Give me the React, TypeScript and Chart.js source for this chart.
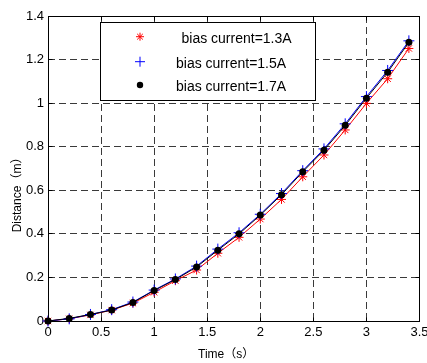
import React, { useEffect, useRef } from 'react';
import { Chart, registerables } from 'chart.js';

Chart.register(...registerables);

const times = [0, 0.2, 0.4, 0.6, 0.8, 1.0, 1.2, 1.4, 1.6, 1.8, 2.0, 2.2, 2.4, 2.6, 2.8, 3.0, 3.2, 3.4];
const dist13 = [0, 0.01, 0.028, 0.05, 0.082, 0.132, 0.185, 0.234, 0.311, 0.384, 0.468, 0.558, 0.662, 0.762, 0.877, 0.999, 1.112, 1.251];
const dist15 = [0, 0.01, 0.03, 0.052, 0.087, 0.142, 0.193, 0.252, 0.33, 0.405, 0.49, 0.585, 0.69, 0.79, 0.905, 1.03, 1.15, 1.286];
const dist17 = [0, 0.012, 0.03, 0.05, 0.085, 0.14, 0.19, 0.248, 0.325, 0.4, 0.486, 0.58, 0.685, 0.784, 0.898, 1.023, 1.142, 1.279];
const seriesLabels = ['bias current=1.3A', 'bias current=1.5A', 'bias current=1.7A'];
const xTickLabels = ['0', '0.5', '1', '1.5', '2', '2.5', '3', '3.5'];
const yTickLabels = ['0', '0.2', '0.4', '0.6', '0.8', '1', '1.2', '1.4'];
const xTitle = 'Time（s）';
const yTitle = 'Distance（m）';

const FONT = "'Liberation Sans', Arial, 'Noto Sans CJK SC', sans-serif";

const al = (p: number) => Math.round(p - 0.5) + 0.5;

function drawStar(ctx: CanvasRenderingContext2D, x: number, y: number, r: number) {
  const d = r * Math.SQRT1_2;
  ctx.beginPath();
  ctx.moveTo(x - r, y); ctx.lineTo(x + r, y);
  ctx.moveTo(x, y - r); ctx.lineTo(x, y + r);
  ctx.moveTo(x - d, y - d); ctx.lineTo(x + d, y + d);
  ctx.moveTo(x - d, y + d); ctx.lineTo(x + d, y - d);
  ctx.stroke();
}
function drawPlus(ctx: CanvasRenderingContext2D, x: number, y: number, r: number) {
  ctx.beginPath();
  ctx.moveTo(x - r, y); ctx.lineTo(x + r, y);
  ctx.moveTo(x, y - r); ctx.lineTo(x, y + r);
  ctx.stroke();
}
function drawDot(ctx: CanvasRenderingContext2D, x: number, y: number, r: number) {
  ctx.beginPath();
  ctx.arc(x, y, r, 0, Math.PI * 2);
  ctx.fill();
}

const framePlugin = {
  id: 'matlabFrame',
  afterDraw(chart: any) {
    const { ctx, chartArea: a, scales } = chart;
    const L = al(a.left), R = al(a.right), T = al(a.top), B = al(a.bottom);
    ctx.save();
    ctx.strokeStyle = '#000';
    ctx.lineWidth = 1;
    ctx.setLineDash([]);
    // inward ticks
    const tl = 4;
    ctx.beginPath();
    scales.x.ticks.forEach((t: any) => {
      const px = al(scales.x.getPixelForValue(t.value));
      ctx.moveTo(px, B); ctx.lineTo(px, B - tl);
      ctx.moveTo(px, T); ctx.lineTo(px, T + tl);
    });
    scales.y.ticks.forEach((t: any) => {
      const py = al(scales.y.getPixelForValue(t.value));
      ctx.moveTo(L, py); ctx.lineTo(L + tl, py);
      ctx.moveTo(R, py); ctx.lineTo(R - tl, py);
    });
    ctx.stroke();
    // box
    ctx.strokeRect(L, T, R - L, B - T);

    // legend
    const lx = 100.5, ly = 22.5, lw = 215, lh = 78;
    ctx.fillStyle = '#fff';
    ctx.fillRect(lx, ly, lw, lh);
    ctx.strokeStyle = '#000';
    ctx.strokeRect(lx, ly, lw, lh);
    const mx = 140;
    const rows = [36.7, 61.7, 85];
    ctx.strokeStyle = '#ff0000';
    drawStar(ctx, mx, rows[0], 4);
    ctx.strokeStyle = '#0000ff';
    drawPlus(ctx, mx, rows[1], 5);
    ctx.fillStyle = '#000';
    drawDot(ctx, mx, rows[2], 3.2);
    ctx.fillStyle = '#000';
    ctx.font = `14px ${FONT}`;
    ctx.textAlign = 'left';
    ctx.textBaseline = 'alphabetic';
    const textX = [181.5, 176, 176];
    seriesLabels.forEach((s, i) => ctx.fillText(s, textX[i], rows[i] + 6));

    // axis titles
    ctx.font = `12px ${FONT}`;
    ctx.fillText(xTitle, 198, 357.5);
    ctx.save();
    ctx.translate(20.7, 232.3);
    ctx.rotate(-Math.PI / 2);
    ctx.fillText(yTitle, 0, 0);
    ctx.restore();
    ctx.restore();
  },
};

export default function App() {
  const ref = useRef<HTMLCanvasElement>(null);
  useEffect(() => {
    document.body.style.margin = '0';
    const mk = (vals: number[]) => times.map((t, i) => ({ x: t, y: vals[i] }));
    const chart = new Chart(ref.current as HTMLCanvasElement, {
      type: 'line',
      data: {
        datasets: [
          {
            label: seriesLabels[0], data: mk(dist13), borderColor: '#ff0000', backgroundColor: '#ff0000',
            borderWidth: 1, pointStyle: 'star', pointRadius: 4.5, pointBorderWidth: 1, pointBorderColor: '#ff0000',
            tension: 0, clip: false, order: 3,
          },
          {
            label: seriesLabels[1], data: mk(dist15), borderColor: '#0000ff', backgroundColor: '#0000ff',
            borderWidth: 1, pointStyle: 'cross', pointRadius: 5.5, pointBorderWidth: 1, pointBorderColor: '#0000ff',
            tension: 0, clip: false, order: 2,
          },
          {
            label: seriesLabels[2], data: mk(dist17), borderColor: '#000000', backgroundColor: '#000000',
            borderWidth: 1, pointStyle: 'circle', pointRadius: 3.5, pointBorderWidth: 0, pointBackgroundColor: '#000',
            tension: 0, clip: false, order: 1,
          },
        ] as any,
      },
      options: {
        responsive: false,
        animation: false,
        events: [],
        layout: { padding: { left: 0, top: 16, right: 7.5, bottom: 0 } },
        plugins: { legend: { display: false }, tooltip: { enabled: false } },
        scales: {
          x: {
            type: 'linear', min: 0, max: 3.5,
            ticks: {
              stepSize: 0.5, autoSkip: false, maxRotation: 0, padding: 3.5, color: '#000',
              font: { family: FONT, size: 13 },
              callback: (_v: any, i: number) => xTickLabels[i],
            },
            grid: { color: '#3a3a3a', lineWidth: 1, drawTicks: false },
            border: { display: false, dash: [7, 4] },
            afterFit: (s: any) => { s.height = 42; s.paddingLeft = 0; s.paddingRight = 0; },
          },
          y: {
            type: 'linear', min: 0, max: 1.4,
            ticks: {
              stepSize: 0.2, autoSkip: false, padding: 4, color: '#000',
              font: { family: FONT, size: 13 },
              callback: (_v: any, i: number) => yTickLabels[i],
            },
            grid: { color: '#3a3a3a', lineWidth: 1, drawTicks: false },
            border: { display: false, dash: [7, 4] },
            afterFit: (s: any) => { s.width = 48; s.paddingTop = 0; s.paddingBottom = 0; },
          },
        },
      } as any,
      plugins: [framePlugin],
    });
    return () => chart.destroy();
  }, []);
  return (
    <div style={{ width: 427, height: 363 }}>
      <canvas ref={ref} width={427} height={363} style={{ display: 'block' }} />
    </div>
  );
}
